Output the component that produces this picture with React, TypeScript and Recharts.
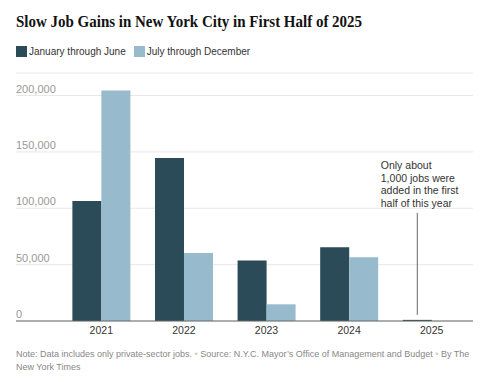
import React from "react";
import { BarChart, Bar, XAxis, YAxis, CartesianGrid, LabelList } from "recharts";

// Private-sector jobs added in N.Y.C., by half year
const years = ["2021", "2022", "2023", "2024", "2025"];
const firstHalf = [106500, 144500, 53700, 65500, 1000];
const secondHalf: (number | null)[] = [204400, 60400, 14800, 56600, null];
const yTicks = [0, 50000, 100000, 150000, 200000];
const annotationLines = ["Only about", "1,000 jobs were", "added in the first", "half of this year"];

const data = years.map((year, i) => ({ year, first: firstHalf[i], second: secondHalf[i] }));

const DARK = "#2a4b57";
const LIGHT = "#97bbcd";
const SANS = "'Liberation Sans', Arial, sans-serif";

const YTick = (props: any) => {
  const { x, y, payload } = props;
  return (
    <text x={x} y={y - 3} textAnchor="start" fontSize={11} fill="#999" fontFamily={SANS}>
      {payload.value === 0 ? "0" : payload.value.toLocaleString("en-US")}
    </text>
  );
};

const Annotation = (props: any) => {
  const { x, y, width, index } = props;
  if (index !== years.length - 1) return null;
  const cx = x + width / 2;
  return (
    <g>
      <line x1={cx} y1={y - 5} x2={cx} y2={y - 107} stroke="#666" strokeWidth={1} />
      {annotationLines.map((t, i) => (
        <text key={t} x={x - 22} y={y - 151 + i * 12.7} fontSize={10.5} fill="#333" fontFamily={SANS}>
          {t}
        </text>
      ))}
    </g>
  );
};

export default function App() {
  return (
    <div style={{ position: "absolute", left: 0, top: 0, width: 500, height: 382, background: "#fff", fontFamily: SANS }}>
      <BarChart
        width={500}
        height={382}
        data={data}
        margin={{ top: 73, right: 27, left: 0, bottom: 31 }}
        barCategoryGap="15%"
        barGap={0}
        style={{ position: "absolute", left: 0, top: 0 }}
      >
        <CartesianGrid vertical={false} stroke="#e8e8e8" />
        <XAxis
          dataKey="year"
          height={30}
          padding={{ left: 44, right: 0 }}
          axisLine={{ stroke: "#666" }}
          tickLine={false}
          tickSize={4}
          tick={{ fill: "#333", fontSize: 10.5, fontFamily: SANS }}
        />
        <YAxis
          width={16}
          domain={[0, 220000]}
          ticks={yTicks}
          axisLine={false}
          tickLine={false}
          tickSize={0}
          tickMargin={0}
          tick={YTick}
        />
        <Bar dataKey="first" fill={DARK} isAnimationActive={false}>
          <LabelList dataKey="first" content={<Annotation />} />
        </Bar>
        <Bar dataKey="second" fill={LIGHT} isAnimationActive={false} />
      </BarChart>

      <div
        style={{
          position: "absolute",
          left: 16,
          top: 11,
          fontFamily: "'Liberation Serif', 'Times New Roman', serif",
          fontWeight: 700,
          fontSize: 17.5,
          lineHeight: "20px",
          color: "#121212",
          whiteSpace: "nowrap",
          transform: "scaleX(0.856)",
          transformOrigin: "0 0",
        }}
      >
        Slow Job Gains in New York City in First Half of 2025
      </div>

      <div style={{ position: "absolute", left: 16, top: 46, display: "flex", alignItems: "center", fontSize: 10, color: "#333", lineHeight: "11px" }}>
        <span style={{ width: 11, height: 11, background: DARK, display: "inline-block", marginRight: 2 }} />
        <span style={{ marginRight: 8 }}>January through June</span>
        <span style={{ width: 11, height: 11, background: LIGHT, display: "inline-block", marginRight: 2 }} />
        <span>July through December</span>
      </div>

      <div style={{ position: "absolute", left: 16, top: 348, fontSize: 9, color: "#888", lineHeight: "13px", whiteSpace: "nowrap" }}>
        <div>
          Note: Data includes only private-sector jobs. <span style={{ color: "#ccc" }}>•</span> Source: N.Y.C. Mayor’s Office of
          Management and Budget <span style={{ color: "#ccc" }}>•</span> By The
        </div>
        <div>New York Times</div>
      </div>
    </div>
  );
}
